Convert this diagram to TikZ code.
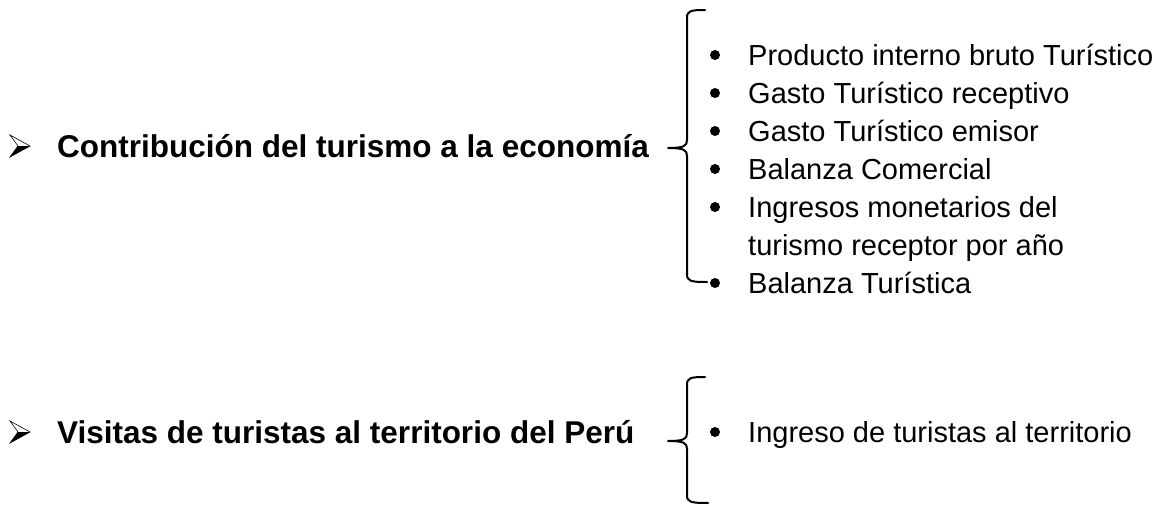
\documentclass[tikz,border=0pt]{standalone}
\usepackage{fontspec}
\setmainfont{Liberation Sans}
\begin{document}
\begin{tikzpicture}[x=1pt,y=-1pt,
  head/.style={anchor=base west,inner sep=0pt,font=\fontsize{31.5}{36}\selectfont\bfseries},
  item/.style={anchor=base west,inner sep=0pt,font=\fontsize{29}{38}\selectfont},
  brace/.style={line width=2pt,line cap=round,line join=round},
  dot/.style={fill=black,draw=none}]
\useasboundingbox (0,0) rectangle (1168,506);
% arrow bullets
\foreach \yy/\nm in {146/a1,432/a2}{
  \coordinate (\nm) at (10,\yy);
  \fill[black] (18,\yy) -- (30,\yy) -- (10,\yy+11) -- cycle;
  \draw[line width=0.6pt,line join=miter] (10,\yy-11) -- (30,\yy) -- (10,\yy+11) -- (18,\yy) -- cycle;
}
% headings
\node[head] (h1) at (57,157) {Contribución del turismo a la economía};
\node[head] (h2) at (57,443) {Visitas de turistas al territorio del Perú};
% braces
\draw[brace] (705,10) .. controls (690,10) and (687,11) .. (687,18) -- (687,140)
  .. controls (687,146) and (684,148) .. (668,148)
  .. controls (684,148) and (687,150) .. (687,156) -- (687,274)
  .. controls (687,281) and (690,282) .. (707,282);
\draw[brace] (705,377) .. controls (690,377) and (687,378) .. (687,385) -- (687,433)
  .. controls (687,439) and (684,441) .. (668,441)
  .. controls (684,441) and (687,443) .. (687,449) -- (687,495)
  .. controls (687,502) and (690,503) .. (708,503);
% bullet items
\foreach \yy/\txt/\nm in {55/{Producto interno bruto Turístico}/i1,
  93/{Gasto Turístico receptivo}/i2,
  131/{Gasto Turístico emisor}/i3,
  169/{Balanza Comercial}/i4,
  207/{Ingresos monetarios del}/i5,
  283/{Balanza Turística}/i7}{
  \fill[dot] (715,\yy) circle (5);
  \node[item] (\nm) at (748,\yy+10) {\txt};
}
\node[item] (i6) at (748,255) {turismo receptor por año};
\fill[dot] (715,432) circle (5);
\node[item] (j1) at (748,442) {Ingreso de turistas al territorio};
\end{tikzpicture}
\end{document}
